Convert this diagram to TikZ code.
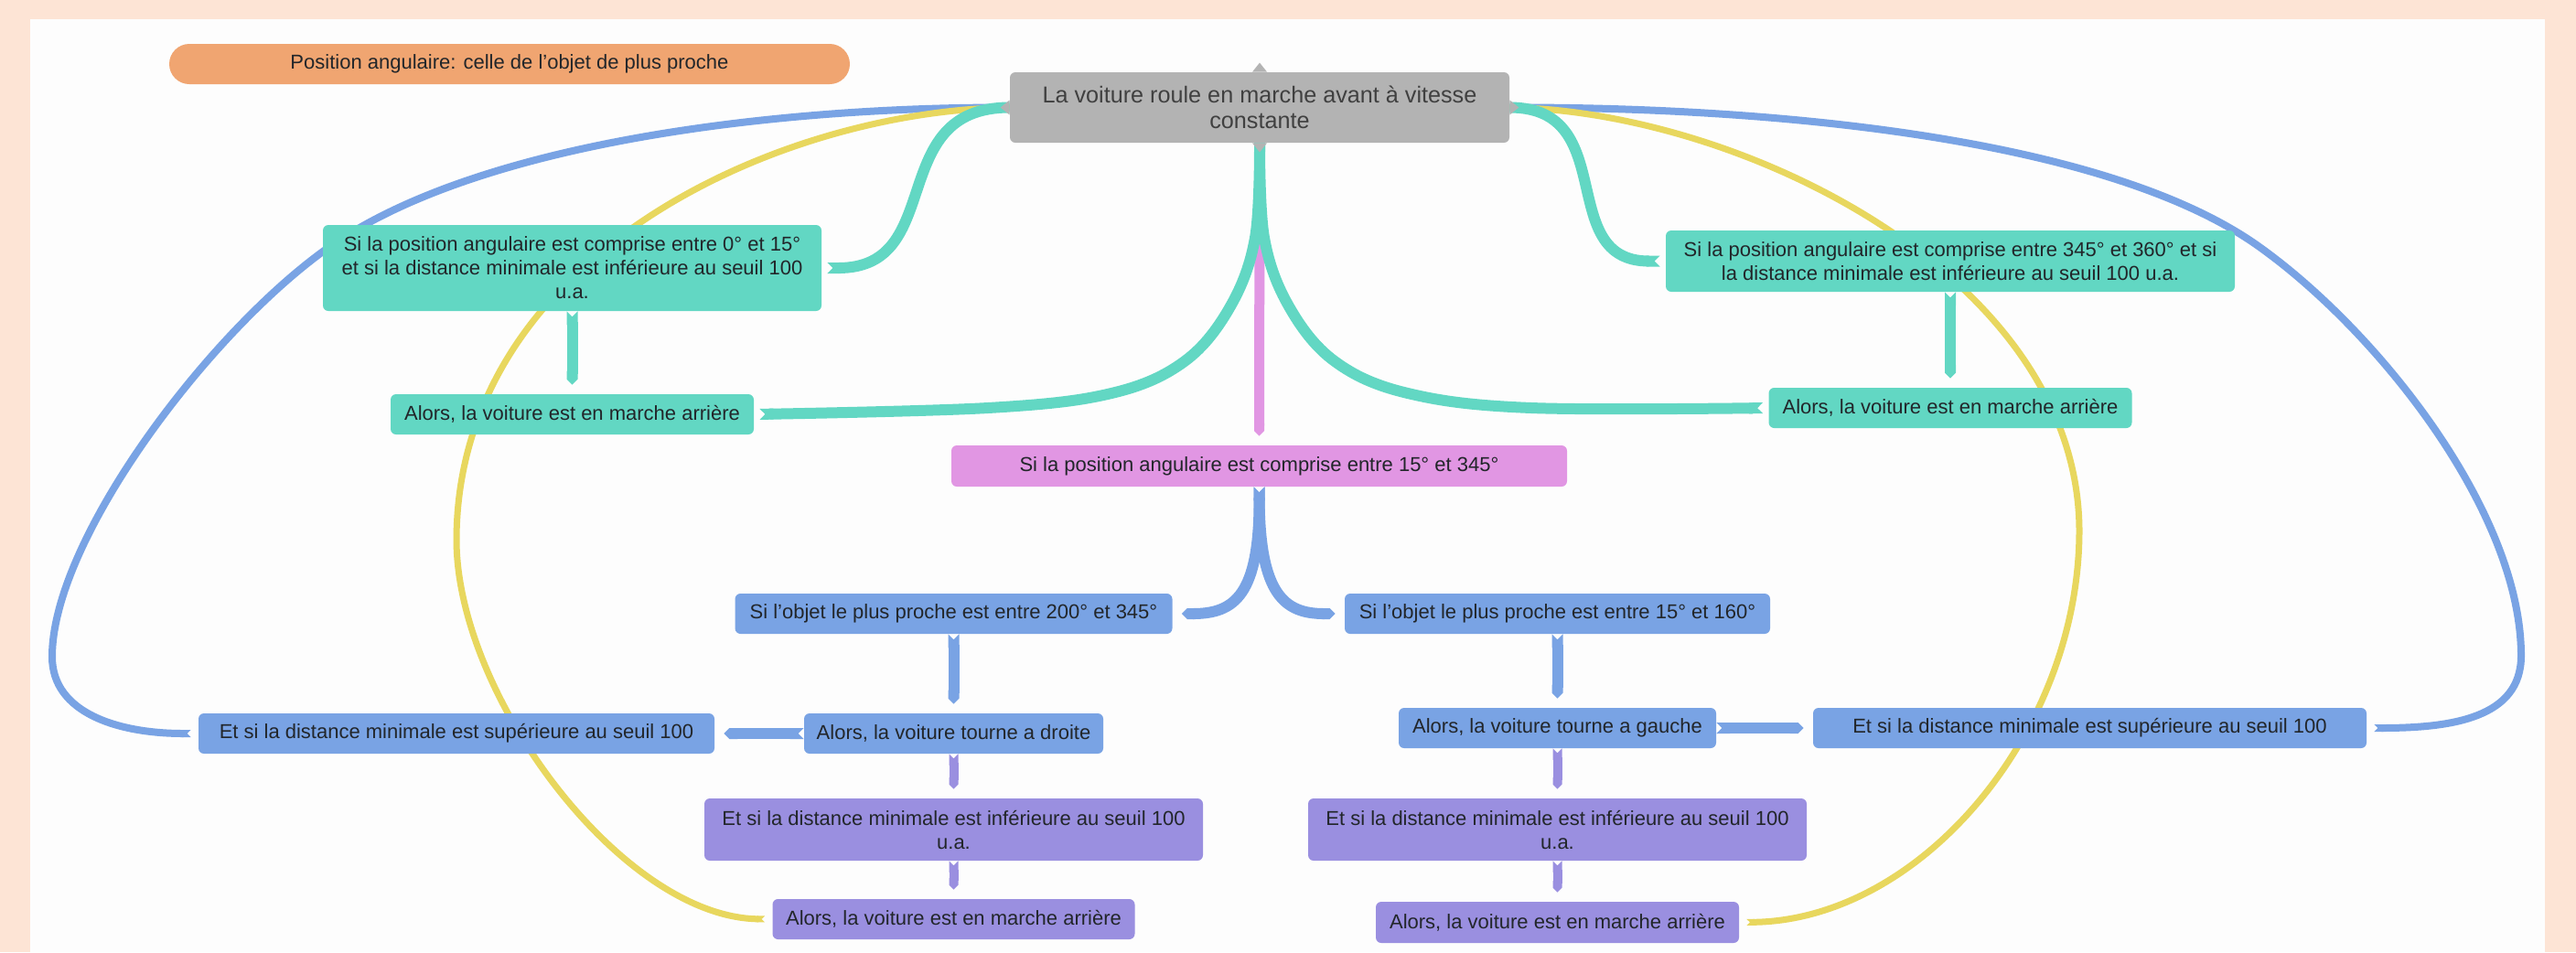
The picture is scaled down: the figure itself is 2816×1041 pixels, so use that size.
\documentclass[tikz,border=0pt]{standalone}
\usepackage{fontspec}
\setmainfont{Liberation Sans}
\usepackage{tikz}
\usetikzlibrary{arrows.meta}

\definecolor{cPeche}{HTML}{FDE4D5}
\definecolor{cPanneau}{HTML}{FDFDFD}
\definecolor{cNote}{HTML}{F0A571}
\definecolor{cRacine}{HTML}{B3B3B3}
\definecolor{cVert}{HTML}{62D7C3}
\definecolor{cRose}{HTML}{E196E3}
\definecolor{cBleu}{HTML}{79A3E4}
\definecolor{cViolet}{HTML}{9A8FE0}
\definecolor{cJaune}{HTML}{E8D75E}
\definecolor{cEncre}{HTML}{22262A}

\pgfdeclarelayer{fond}
\pgfsetlayers{fond,main}

\begin{document}
\begin{tikzpicture}[x=0.5pt,y=-0.5pt,
		boite/.style={rounded corners=3pt, inner sep=0pt, align=center, text=cEncre, font=\fontsize{11}{13}\selectfont},
		boiteverte/.style={boite, fill=cVert},
		boiterose/.style={boite, fill=cRose},
		boitebleue/.style={boite, fill=cBleu},
		boiteviolette/.style={boite, fill=cViolet},
		lien/.style={line width=6pt, {Triangle Cap[reversed]}-{Triangle Cap}, shorten >=5pt},
		branche/.style={line width=6pt, -{Triangle Cap[reversed]}, shorten >=3pt},
		arc/.style={line width=3.5pt, -{Triangle Cap[reversed]}, shorten >=4pt}]

	\useasboundingbox (0,0) rectangle (2816,1041);
	\begin{pgfonlayer}{fond}
		\fill[cPeche] (0,0) rectangle (2816,1041);
		\fill[cPanneau] (33,21) rectangle (2782,1041);
	\end{pgfonlayer}

		    \begin{scope}
					\node[boite, fill=cNote, rounded corners=11pt, minimum width=372pt, minimum height=22pt] (note) at (557,70) {Position angulaire: celle de l'objet de plus proche};

					\node[boite, fill=cRacine, text=black!75, font=\fontsize{12.6}{14}\selectfont, minimum width=273pt, minimum height=38.5pt] (racine) at (1377,117.5) {La voiture roule en marche avant à vitesse\\constante};
					\fill[cRacine] ([xshift=-4pt]racine.north) -- ([yshift=5pt]racine.north) -- ([xshift=4pt]racine.north) -- cycle;
					\fill[cRacine] ([yshift=4pt]racine.west) -- ([xshift=-5pt]racine.west) -- ([yshift=-4pt]racine.west) -- cycle;
					\fill[cRacine] ([yshift=4pt]racine.east) -- ([xshift=5pt]racine.east) -- ([yshift=-4pt]racine.east) -- cycle;
					\fill[cRacine] ([xshift=-4pt]racine.south) -- ([yshift=-5pt]racine.south) -- ([xshift=4pt]racine.south) -- cycle;

					% 0-15 et 345-360
					\node[boiteverte, minimum width=272.5pt, minimum height=47pt] (si015) at (625.5,293) {Si la position angulaire est comprise entre 0° et 15°\\et si la distance minimale est inférieure au seuil 100\\u.a.};
					\node[boiteverte, minimum width=198.5pt, minimum height=22pt] (alors015) at (625.5,453) {Alors, la voiture est en marche arrière};
					\node[boiteverte, minimum width=311pt, minimum height=33.5pt] (si345) at (2132,285.5) {Si la position angulaire est comprise entre 345° et 360° et si\\la distance minimale est inférieure au seuil 100 u.a.};
					\node[boiteverte, minimum width=198.5pt, minimum height=22pt] (alors345) at (2132,446) {Alors, la voiture est en marche arrière};

					% 15-345
					\node[boiterose, minimum width=336.5pt, minimum height=22.5pt] (si15345) at (1376.5,509.5) {Si la position angulaire est comprise entre 15° et 345°};

					\node[boitebleue, minimum width=239pt, minimum height=22pt] (obj200) at (1042.5,671) {Si l'objet le plus proche est entre 200° et 345°};
					\node[boitebleue, minimum width=163.5pt, minimum height=22pt] (droite) at (1042.5,802) {Alors, la voiture tourne a droite};
					\node[boitebleue, minimum width=282pt, minimum height=22pt] (supg) at (499,802) {Et si la distance minimale est supérieure au seuil 100};
					\node[boiteviolette, minimum width=272.5pt, minimum height=34pt] (infg) at (1042.5,907) {Et si la distance minimale est inférieure au seuil 100\\u.a.};
					\node[boiteviolette, minimum width=198pt, minimum height=22pt] (arrg) at (1042.5,1005) {Alors, la voiture est en marche arrière};

					\node[boitebleue, minimum width=232.5pt, minimum height=22pt] (obj15) at (1702.5,671) {Si l'objet le plus proche est entre 15° et 160°};
					\node[boitebleue, minimum width=173.5pt, minimum height=22pt] (gauche) at (1702.5,796) {Alors, la voiture tourne a gauche};
					\node[boitebleue, minimum width=302.5pt, minimum height=22pt] (supd) at (2284.5,796) {Et si la distance minimale est supérieure au seuil 100};
					\node[boiteviolette, minimum width=272.5pt, minimum height=34pt] (infd) at (1702.5,907) {Et si la distance minimale est inférieure au seuil 100\\u.a.};
					\node[boiteviolette, minimum width=198.5pt, minimum height=22.5pt] (arrd) at (1702.5,1008.5) {Alors, la voiture est en marche arrière};
		    \end{scope}

	\begin{pgfonlayer}{fond}
		% grands arcs
		\draw[arc, cBleu, line width=4pt] (racine.west) .. controls (850,117) and (524,155) .. (360,270)
			.. controls (229,362) and (57,590) .. (57,718) .. controls (57,780) and (130,802) .. (supg.west); % racine -> sup. gauche
		\draw[arc, cJaune] (racine.west) .. controls (850,121) and (500,280) .. (499,590)
			.. controls (499,760) and (680,1003) .. (arrg.west); % racine -> arriere gauche
		\draw[arc, cBleu, line width=4pt] (racine.east) .. controls (1950,117) and (2307,153) .. (2470,270)
			.. controls (2600,363) and (2756,560) .. (2756,717) .. controls (2756,785) and (2680,796) .. (supd.east); % racine -> sup. droite
		\draw[arc, cJaune] (racine.east) .. controls (1900,121) and (2272,300) .. (2273,580)
			.. controls (2273,800) and (2100,1006) .. (arrd.east); % racine -> arriere droite

		\draw[lien, cRose, line width=5.5pt] (racine.south) -- (si15345.north);

		% branches vertes
		\draw[branche, cVert] (racine.west) to[out=180, in=0, looseness=1.3] (si015.east);
		\draw[branche, cVert] (racine.east) to[out=0, in=180, looseness=1.3] (si345.west);
		\draw[branche, cVert] plot[smooth, tension=0.6] coordinates {(racine.south) (1372,260) (1345,335) (1295,395) (1215,430) (1080,446) (alors015.east)};
		\draw[branche, cVert] plot[smooth, tension=0.6] coordinates {(racine.south) (1382,260) (1409,335) (1459,395) (1539,430) (1674,446) (alors345.west)};
		\draw (si015) edge[lien, cVert] (alors015);
		\draw (si345) edge[lien, cVert] (alors345);

		% 15-345
		\draw[lien, cBleu] (si15345.south) .. controls (1377,650) and (1350,671) .. (obj200.east);
		\draw[lien, cBleu] (si15345.south) .. controls (1377,650) and (1404,671) .. (obj15.west);
		\draw (obj200) edge[lien, cBleu] (droite);
		\draw (obj15) edge[lien, cBleu] (gauche);
		\draw (droite) edge[lien, cBleu] (supg);
		\draw (gauche) edge[lien, cBleu] (supd);
		\draw (droite) edge[lien, cViolet, line width=5pt] (infg);
		\draw (infg) edge[lien, cViolet, line width=5pt] (arrg);
		\draw (gauche) edge[lien, cViolet, line width=5pt] (infd);
		\draw (infd) edge[lien, cViolet, line width=5pt] (arrd);
	\end{pgfonlayer}
\end{tikzpicture}
\end{document}
